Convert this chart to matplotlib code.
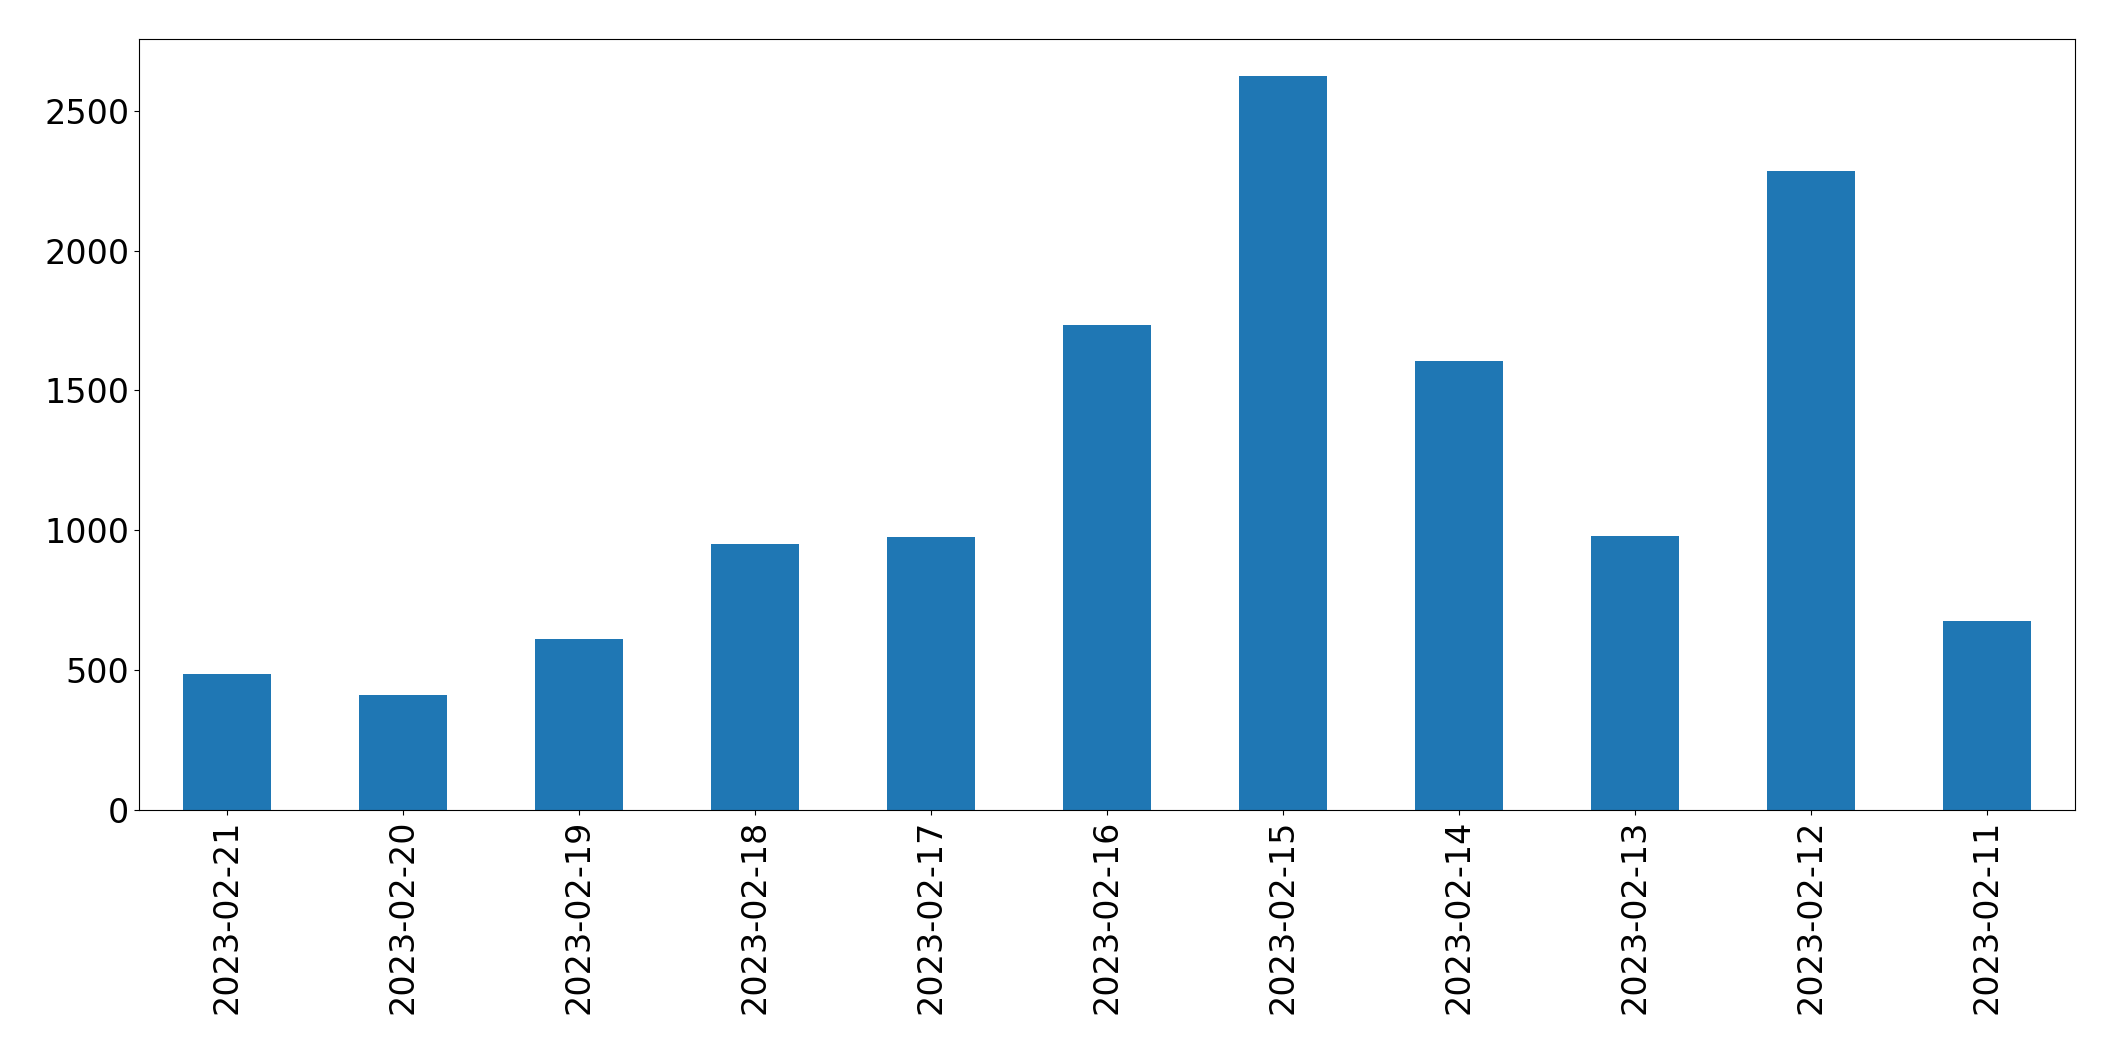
import pandas as pd
import matplotlib
matplotlib.use("Agg")
import matplotlib.pyplot as plt

dates = ["2023-02-21", "2023-02-20", "2023-02-19", "2023-02-18", "2023-02-17",
         "2023-02-16", "2023-02-15", "2023-02-14", "2023-02-13", "2023-02-12",
         "2023-02-11"]
counts = [485, 412, 613, 950, 975, 1735, 2625, 1605, 980, 2285, 675]

s = pd.Series(counts, index=dates)

fig = plt.figure(figsize=(21.15, 10.61), dpi=100)
ax = fig.add_axes([139 / 2115, 1 - 810 / 1061, (2075 - 139) / 2115, (810 - 39) / 1061])
s.plot(kind="bar", ax=ax, color="#1f77b4")
ax.tick_params(axis="both", labelsize=24)
fig.savefig("out.png", dpi=100)
plt.close(fig)
